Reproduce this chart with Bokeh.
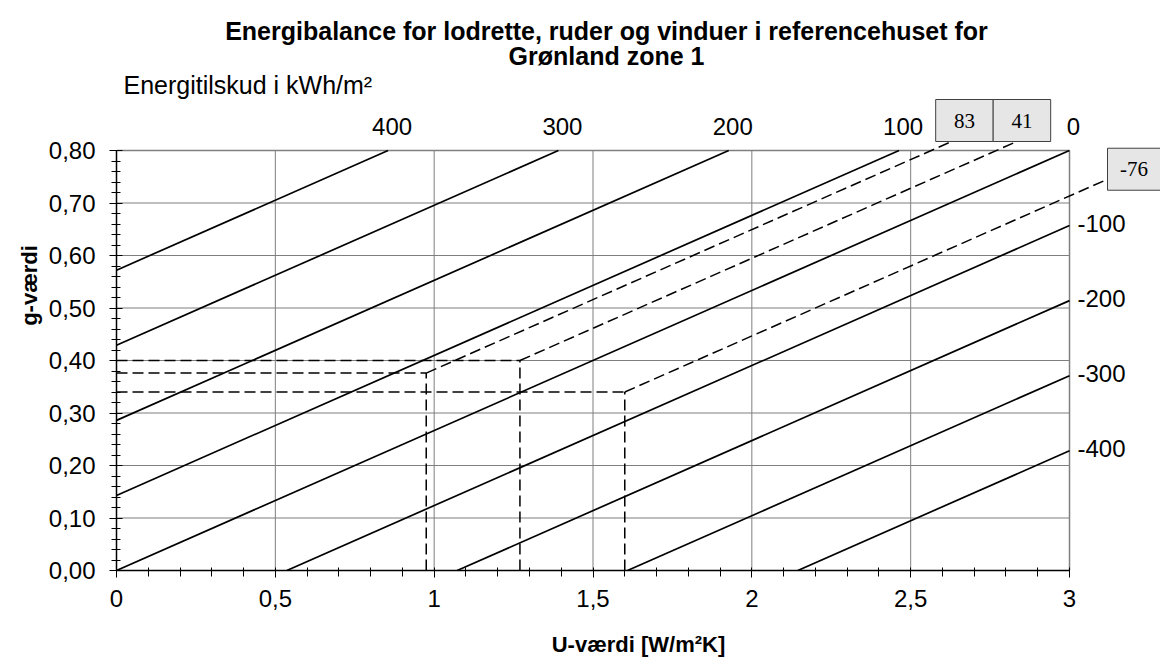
from bokeh.plotting import figure
from bokeh.models import Range1d, FixedTicker, CustomJSTickFormatter
from bokeh.core.properties import value
from bokeh.embed import file_html
from bokeh.resources import INLINE

# ---------------- data ----------------
title_lines = ["Energibalance for lodrette, ruder og vinduer i referencehuset for",
               "Grønland zone 1"]
energy_axis_title = "Energitilskud i kWh/m²"
x_axis_title = "U-værdi [W/m²K]"
y_axis_title = "g-værdi"

x_ticks = [0, 0.5, 1.0, 1.5, 2.0, 2.5, 3.0]
x_tick_labels = ["0", "0,5", "1", "1,5", "2", "2,5", "3"]
y_ticks = [0.0, 0.1, 0.2, 0.3, 0.4, 0.5, 0.6, 0.7, 0.8]
y_tick_labels = ["0,00", "0,10", "0,20", "0,30", "0,40", "0,50", "0,60", "0,70", "0,80"]

# iso-energy lines (kWh/m2): g-value where each line meets U = 0, common slope
energy_levels = [400, 300, 200, 100, 0, -100, -200, -300, -400]
energy_g_at_u0 = [0.572, 0.429, 0.286, 0.143, 0.0, -0.143, -0.286, -0.429, -0.572]
energy_slope = 0.2667  # g per W/m2K

# the three marked windows (U, g) and their read energy balance
case_u = [0.975, 1.27, 1.60]
case_g = [0.376, 0.40, 0.34]
case_balance = ["83", "41", "-76"]

# ---------------- layout (page pixels) ----------------
U_MIN, U_MAX = x_ticks[0], x_ticks[-1]
G_MIN, G_MAX = y_ticks[0], y_ticks[-1]
PX_PER_U = 317.67
PX_PER_G = 525.0
LEFT = 116          # page x of U = 0
BOTTOM = 570        # page y of g = 0
FIG_W = 1160
FIG_H = 666
FRAME_W = FIG_W - LEFT
FRAME_H = BOTTOM


def du(px):
    return px / PX_PER_U


def dg(px):
    return px / PX_PER_G


def U_at(px):
    return (px - LEFT) / PX_PER_U


def G_at(py):
    return (BOTTOM - py) / PX_PER_G


SANS = "Liberation Sans"
SERIF = "Liberation Serif"
GRID = "#7f7f7f"

p = figure(frame_width=FRAME_W, frame_height=FRAME_H,
           x_range=Range1d(0, du(FRAME_W)), y_range=Range1d(0, dg(FRAME_H)),
           output_backend="svg", toolbar_location=None,
           min_border_left=LEFT, min_border_right=0, min_border_top=0,
           min_border_bottom=FIG_H - BOTTOM,
           background_fill_color="white", border_fill_color="white",
           outline_line_color=None)
p.grid.visible = False

# grid lines inside the chart box
hx = list(y_ticks[1:-1])
p.segment(x0=[U_MIN] * len(hx), y0=hx, x1=[U_MAX] * len(hx), y1=hx,
          line_color=GRID, line_width=1)
vx = list(x_ticks[1:-1])
p.segment(x0=vx, y0=[G_MIN] * len(vx), x1=vx, y1=[G_MAX] * len(vx),
          line_color=GRID, line_width=1)
# top and right border of chart box
p.segment(x0=[U_MIN, U_MAX], y0=[G_MAX, G_MIN], x1=[U_MAX, U_MAX], y1=[G_MAX, G_MAX],
          line_color=GRID, line_width=1.5)

# iso-energy lines clipped to the chart box
m = energy_slope
lx0, ly0, lx1, ly1 = [], [], [], []
top_x, top_y, top_t = [], [], []
right_x, right_y, right_t = [], [], []
for e, c in zip(energy_levels, energy_g_at_u0):
    u_s = max(U_MIN, (G_MIN - c) / m)
    u_top = (G_MAX - c) / m
    u_e = min(U_MAX, u_top)
    lx0.append(u_s); ly0.append(c + m * u_s)
    lx1.append(u_e); ly1.append(c + m * u_e)
    if u_top <= U_MAX + 1e-3:
        top_x.append(u_top + du(4)); top_y.append(G_MAX + dg(24)); top_t.append(str(e))
    else:
        right_x.append(U_MAX + du(8)); right_y.append(c + m * U_MAX + dg(2)); right_t.append(str(e))
p.segment(x0=lx0, y0=ly0, x1=lx1, y1=ly1, line_color="black", line_width=1.7)

# dashed construction lines for the three windows
dash = "11 5"
n = len(case_u)
p.segment(x0=[U_MIN] * n, y0=case_g, x1=case_u, y1=case_g,
          line_color="black", line_width=1.5, line_dash=dash)
p.segment(x0=case_u, y0=[G_MIN] * n, x1=case_u, y1=case_g,
          line_color="black", line_width=1.5, line_dash=dash)

BOX_W = 57.5
BOX_H = 42
RBOX_W = 53
g_box_bottom = G_MAX + dg(9)
ex, ey = [], []
top_cases, right_cases = [], []
for u, g, t in zip(case_u, case_g, case_balance):
    u_hit = u + (g_box_bottom - g) / m
    if u_hit <= U_MAX:
        ex.append(u_hit); ey.append(g_box_bottom)
        top_cases.append((u_hit, t))
    else:
        u_end = U_MAX + du(38)
        g_end = g + m * (u_end - u)
        ex.append(u_end); ey.append(g_end)
        right_cases.append((u_end, g_end, t))
p.segment(x0=case_u, y0=case_g, x1=ex, y1=ey,
          line_color="black", line_width=1.5, line_dash=dash)

bl, br, bt, bb, bx, by, btxt = [], [], [], [], [], [], []
top_cases.sort()
if top_cases:
    left0 = top_cases[0][0] - du(16)
    for k, (uh, t) in enumerate(top_cases):
        l = left0 + k * du(BOX_W)
        bl.append(l); br.append(l + du(BOX_W))
        bb.append(g_box_bottom); bt.append(g_box_bottom + dg(BOX_H))
        bx.append(l + du(BOX_W) / 2); by.append(g_box_bottom + dg(BOX_H) / 2)
        btxt.append(t)
for ue, ge, t in right_cases:
    r = ue + du(RBOX_W)
    c_y = ge + dg(10)
    bl.append(ue); br.append(r)
    bb.append(c_y - dg(BOX_H / 2)); bt.append(c_y + dg(BOX_H / 2))
    bx.append((ue + r) / 2); by.append(c_y)
    btxt.append(t)
p.quad(left=bl, right=br, top=bt, bottom=bb, fill_color="#e6e6e6",
       line_color="#404040", line_width=1)
p.text(x=bx, y=by, text=btxt, text_font=value(SERIF), text_font_size="21px",
       text_align="center", text_baseline="middle", text_color="black")

# energy labels
p.text(x=top_x, y=top_y, text=top_t, text_font=value(SANS), text_font_size="24px",
       text_align="center", text_baseline="alphabetic", text_color="black")
p.text(x=right_x, y=right_y, text=right_t, text_font=value(SANS), text_font_size="24px",
       text_align="left", text_baseline="alphabetic", text_color="black")

# titles
title_x = U_at(606)
p.text(x=[title_x, title_x], y=[G_at(30), G_at(55)], text=title_lines,
       text_font=value(SANS), text_font_size="25px", text_font_style="bold",
       text_align="center", text_baseline="alphabetic", text_color="black")
p.text(x=[U_at(123)], y=[G_at(84)], text=[energy_axis_title],
       text_font=value(SANS), text_font_size="25px",
       text_align="left", text_baseline="alphabetic", text_color="black")

# axes
fmt_code = """
for (let i = 0; i < tvals.length; i++) {
    if (Math.abs(tvals[i] - tick) < 1e-6) { return tlabels[i]; }
}
return "";
"""


def minor(ticks):
    out = []
    for a, b in zip(ticks[:-1], ticks[1:]):
        for k in range(1, 5):
            out.append(a + k * (b - a) / 5)
    return out


xa = p.xaxis[0]
xa.bounds = (U_MIN, U_MAX)
xa.ticker = FixedTicker(ticks=x_ticks, minor_ticks=minor(x_ticks))
xa.formatter = CustomJSTickFormatter(args=dict(tvals=x_ticks, tlabels=x_tick_labels), code=fmt_code)
xa.axis_line_color = "black"
xa.axis_line_width = 1.5
xa.major_tick_line_color = "black"
xa.minor_tick_line_color = "black"
xa.major_tick_in = 3
xa.major_tick_out = 7
xa.minor_tick_in = 3
xa.minor_tick_out = 6
xa.major_label_text_font = SANS
xa.major_label_text_font_size = "24px"
xa.major_label_text_color = "black"
xa.major_label_standoff = 12
xa.axis_label = x_axis_title
xa.axis_label_text_font = SANS
xa.axis_label_text_font_size = "22px"
xa.axis_label_text_font_style = "bold"
xa.axis_label_text_color = "black"
xa.axis_label_standoff = 22

ya = p.yaxis[0]
ya.bounds = (G_MIN, G_MAX)
ya.ticker = FixedTicker(ticks=y_ticks, minor_ticks=minor(y_ticks))
ya.formatter = CustomJSTickFormatter(args=dict(tvals=y_ticks, tlabels=y_tick_labels), code=fmt_code)
ya.axis_line_color = "black"
ya.axis_line_width = 1.5
ya.major_tick_line_color = "black"
ya.minor_tick_line_color = "black"
ya.major_tick_in = 6
ya.major_tick_out = 7
ya.minor_tick_in = 4
ya.minor_tick_out = 5
ya.major_label_text_font = SANS
ya.major_label_text_font_size = "24px"
ya.major_label_text_color = "black"
ya.major_label_standoff = 14
ya.axis_label = y_axis_title
ya.axis_label_text_font = SANS
ya.axis_label_text_font_size = "22px"
ya.axis_label_text_font_style = "bold"
ya.axis_label_text_color = "black"
ya.axis_label_standoff = 4

open("out.html", "w").write(file_html(p, INLINE))
